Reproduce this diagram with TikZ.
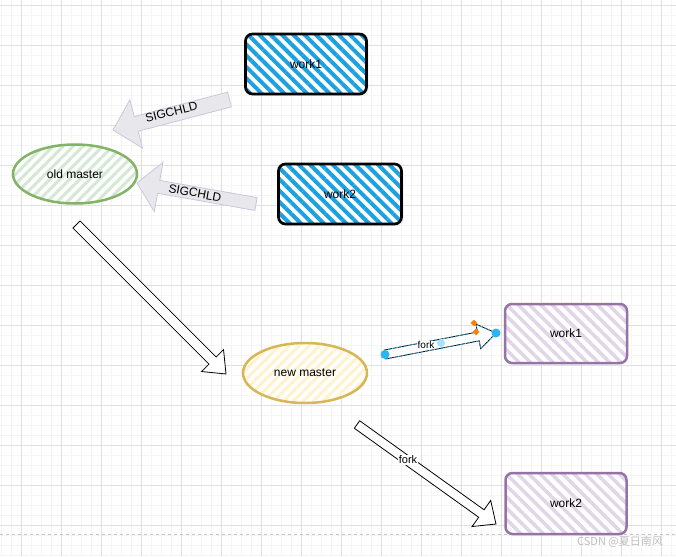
\documentclass[tikz,border=0pt]{standalone}
\usepackage{fontspec}
\setmainfont{Liberation Sans}
\newfontfamily\cjkfont{Noto Sans CJK SC}
\usetikzlibrary{calc,shapes.geometric,patterns.meta,shadows}
\definecolor{hatchblue}{HTML}{1BA1E2}
\definecolor{hatchgreen}{HTML}{D5E8D4}
\definecolor{linegreen}{HTML}{82B366}
\definecolor{hatchyellow}{HTML}{FFF2CC}
\definecolor{lineyellow}{HTML}{D6B656}
\definecolor{hatchpurple}{HTML}{E1D5E7}
\definecolor{linepurple}{HTML}{9673A6}
\definecolor{sigfill}{HTML}{E8E8EC}
\definecolor{sigline}{HTML}{C9C7DE}
\definecolor{selblue}{HTML}{29B6F2}
\definecolor{gridmajor}{HTML}{E0E0E0}
\definecolor{gridminor}{HTML}{F5F5F5}
% flat block arrow: [style]{from}{to}{half shaft}{half head}{head length}
\newcommand{\blockarrow}[6][]{%
  \coordinate (ba-c) at ($(#3)!#6!(#2)$);
  \draw[#1] ($(#2)!#4!90:(#3)$) -- ($(ba-c)!#4!90:(#3)$) -- ($(ba-c)!#5!90:(#3)$)
    -- (#3) -- ($(ba-c)!#5!-90:(#3)$) -- ($(ba-c)!#4!-90:(#3)$) -- ($(#2)!#4!-90:(#3)$) -- cycle;
}
\begin{document}
\begin{tikzpicture}
		[x=1pt,y=-1pt,
		font=\fontsize{12}{14}\selectfont,
		minorgrid/.style={draw=gridminor,line width=0.6pt},
		majorgrid/.style={draw=gridmajor,line width=0.8pt},
		bluebox/.style={rectangle,rounded corners=7pt,minimum width=121pt,minimum height=60pt,
			fill=white,drop shadow={opacity=0.12,shadow xshift=2pt,shadow yshift=-2pt},
			postaction={pattern={Lines[angle=-45,distance=8pt,line width=4pt]},pattern color=hatchblue},
			postaction={draw=black,line width=2.7pt}},
		purplebox/.style={rectangle,rounded corners=7pt,minimum width=121pt,minimum height=60pt,
			fill=white,
			postaction={pattern={Lines[angle=-45,distance=8pt,line width=3.5pt]},pattern color=hatchpurple},
			postaction={draw=linepurple,line width=2.5pt}},
		oval/.style 2 args={ellipse,inner sep=0pt,minimum width=124pt,minimum height=59pt,fill=white,
			postaction={pattern={Lines[angle=45,distance=7pt,line width=3pt]},pattern color=#1},
			postaction={draw=#2,line width=2.5pt}},
		sigarrow/.style={fill=sigfill,draw=sigline,line width=0.8pt},
		forkarrow/.style={fill=white,draw=black,line width=0.8pt},
		plain/.style={inner sep=1pt,font=\fontsize{11}{13}\selectfont},
		handle/.style={circle,fill=selblue,inner sep=0pt,minimum size=9pt}
		]
		\useasboundingbox (0,0) rectangle (676,556);
		\fill[white] (0,0) rectangle (676,556);

		\foreach \x in {1.3,11.3,...,671.3} \draw[minorgrid] (\x,0) -- (\x,556);
		\foreach \y in {5,15,...,555} \draw[minorgrid] (0,\y) -- (676,\y);
		\foreach \x in {21.3,61.3,...,661.3} \draw[majorgrid] (\x,0) -- (\x,556);
		\foreach \y in {5,45,...,525} \draw[majorgrid] (0,\y) -- (676,\y);
		\draw[gray!45,dashed,line width=0.8pt] (0,534.5) -- (676,534.5);

		\node[bluebox] (work1) at (306,64){work1};
		\node[bluebox,minimum width=123pt] (work2) at (340,194){work2};
		\node[oval={hatchgreen}{linegreen}] (oldmaster) at (75,174){old master};
		\node[oval={hatchyellow}{lineyellow},minimum height=60pt] (newmaster) at (305,373){new master};
		\node[purplebox,minimum width=122pt,minimum height=59pt] (newwork1) at (566,333.5){work1};
		\node[purplebox,minimum height=61pt] (newwork2) at (566,503.5){work2};

\coordinate (sigA) at (229.5,99.5);
\coordinate (sigB) at (113,130);
\coordinate (sigC) at (256,204);
\coordinate (sigD) at (137,183);
\coordinate (moveA) at (76.5,224.5);
\coordinate (moveB) at (226,374);
\coordinate (forkA) at (385,354.5);
\coordinate (forkB) at (496,333);
\coordinate (forkC) at (357,424.5);
\coordinate (forkD) at (496,524);

		\blockarrow[sigarrow]{sigA}{sigB}{7.6pt}{25pt}{24pt}
		\blockarrow[sigarrow]{sigC}{sigD}{6.5pt}{25pt}{22pt}
		\node[rotate=14.4] (sig1) at (171.5,112){SIGCHLD};
		\node[rotate=-10.5] (sig2) at (195,193){SIGCHLD};

		\blockarrow[forkarrow]{moveA}{moveB}{5pt}{15.5pt}{19pt}
		\blockarrow[forkarrow]{forkC}{forkD}{4.6pt}{16pt}{18pt}
		\node[plain,fill=white] (fork2) at (408,460){fork};

		\blockarrow[forkarrow]{forkA}{forkB}{4.5pt}{12.5pt}{18pt}
		\blockarrow[draw=selblue,line width=0.7pt,dash pattern=on 2pt off 2pt]{forkA}{forkB}{4.5pt}{12.5pt}{18pt}
		\node[plain,fill=white,inner sep=0.5pt,font=\fontsize{10}{12}\selectfont] (fork1) at (426,345){fork};
		\node[handle] (hA) at (forkA){};
		\node[handle] (hB) at (forkB){};
		\node[handle,fill=selblue!40,minimum size=8pt] (hM) at (441,343){};
		\node[diamond,fill=orange,inner sep=0pt,minimum size=7pt] (dA) at (474,323){};
		\node[diamond,fill=orange,inner sep=0pt,minimum size=7pt] (dB) at (476,332){};

		\node[text=gray!50,font=\cjkfont\fontsize{11}{13}\selectfont] (csdn) at (620,542){CSDN @夏日南风};
	\end{tikzpicture}
\end{document}
